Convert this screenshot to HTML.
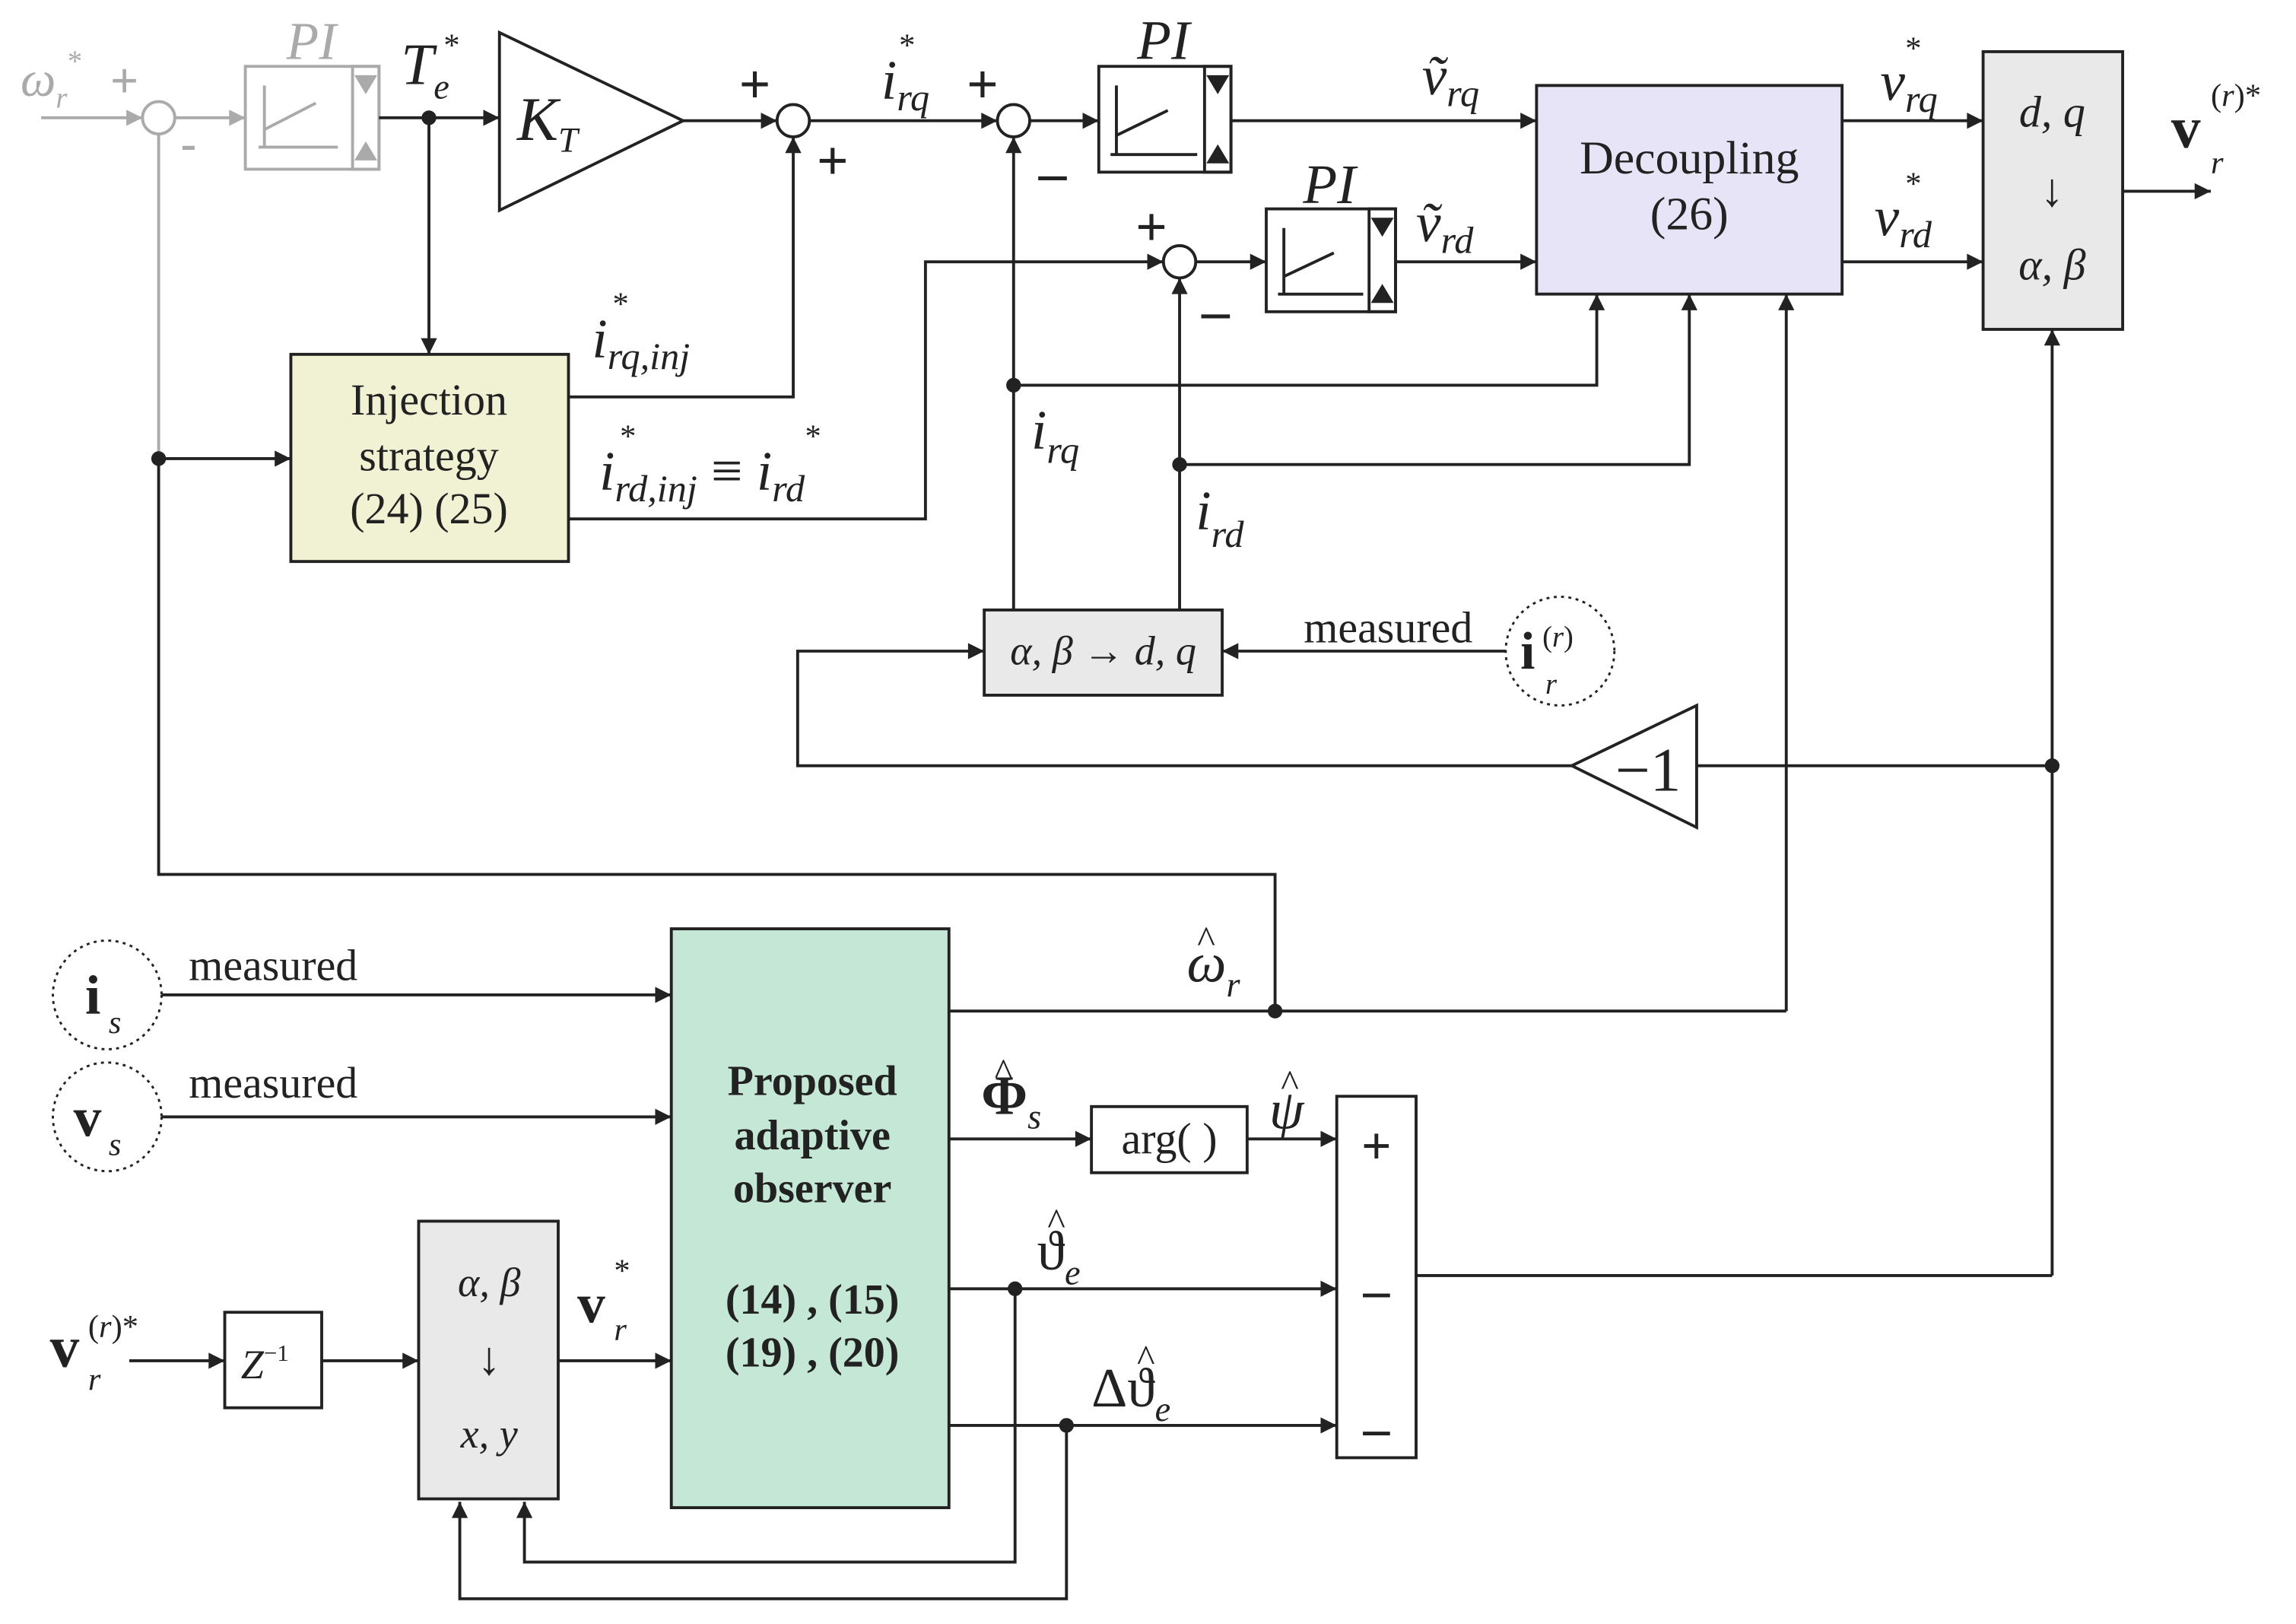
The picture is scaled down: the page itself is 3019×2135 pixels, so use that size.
<!DOCTYPE html>
<html><head><meta charset="utf-8"><style>
html,body{margin:0;padding:0;background:#fff}
svg{display:block}
text{font-family:"Liberation Serif",serif;fill:#222}
.i{font-style:italic}
.g{fill:#aaa}
</style></head><body>
<svg width="3019" height="2135" viewBox="0 0 1563 1105" xmlns="http://www.w3.org/2000/svg">
<defs>
<marker id="a" viewBox="0 0 10 10" refX="10" refY="5" markerWidth="13" markerHeight="11" orient="auto" markerUnits="userSpaceOnUse"><path d="M0,0 L10,5 L0,10z" fill="#222"/></marker>
<marker id="ag" viewBox="0 0 10 10" refX="10" refY="5" markerWidth="13" markerHeight="11" orient="auto" markerUnits="userSpaceOnUse"><path d="M0,0 L10,5 L0,10z" fill="#aaa"/></marker>
</defs>
<g fill="none" stroke="#222" stroke-width="2">
<g stroke="#aaa">
<line x1="28" y1="80" x2="97" y2="80" marker-end="url(#ag)"/>
<circle cx="108" cy="80" r="11"/>
<line x1="119" y1="80" x2="167" y2="80" marker-end="url(#ag)"/>
<rect x="167" y="45" width="91" height="70"/>
<line x1="108" y1="91" x2="108" y2="312"/>
<path d="M180,100 V58 M176,100 H230 M180,88 L215,70"/>
<rect x="240" y="45" width="18" height="70"/>
<path d="M243,52 h12 l-6,10z M243,108 h12 l-6,-10z" fill="#aaa"/>
</g>
<line x1="258" y1="80" x2="340" y2="80" marker-end="url(#a)"/>
<circle cx="292" cy="80" r="4" fill="#222"/>
<line x1="292" y1="80" x2="292" y2="241" marker-end="url(#a)"/>
<path d="M340,22 V143 L465,82 Z"/>
<line x1="465" y1="82" x2="529" y2="82" marker-end="url(#a)"/>
<circle cx="540" cy="82" r="11"/>
<line x1="551" y1="82" x2="679" y2="82" marker-end="url(#a)"/>
<circle cx="690" cy="82" r="11"/>
<line x1="701" y1="82" x2="748" y2="82" marker-end="url(#a)"/>
<rect x="748" y="45" width="90" height="72"/>
<path d="M760,105 V58 M756,105 H815 M760,92 L795,75"/>
<rect x="820" y="45" width="18" height="72"/>
<path d="M823,52 h12 l-6,10z M823,110 h12 l-6,-10z" fill="#222"/>
<line x1="838" y1="82" x2="1046" y2="82" marker-end="url(#a)"/>
<rect x="1046" y="58" width="208" height="142" fill="#e6e4f6"/>
<circle cx="803" cy="178" r="11"/>
<line x1="814" y1="178" x2="862" y2="178" marker-end="url(#a)"/>
<rect x="862" y="142" width="88" height="70"/>
<path d="M874,200 V155 M870,200 H928 M874,188 L908,172"/>
<rect x="932" y="142" width="18" height="70"/>
<path d="M935,149 h12 l-6,10z M935,205 h12 l-6,-10z" fill="#222"/>
<line x1="950" y1="178" x2="1046" y2="178" marker-end="url(#a)"/>
<line x1="1254" y1="82" x2="1350" y2="82" marker-end="url(#a)"/>
<line x1="1254" y1="178" x2="1350" y2="178" marker-end="url(#a)"/>
<rect x="1350" y="35" width="95" height="189" fill="#e8e9e8"/>
<line x1="1445" y1="130" x2="1505" y2="130" marker-end="url(#a)"/>
<rect x="198" y="241" width="189" height="141" fill="#f1f2d4"/>
<polyline points="387,270 540,270 540,93" marker-end="url(#a)"/>
<polyline points="387,353 630,353 630,178 792,178" marker-end="url(#a)"/>
<line x1="108" y1="312" x2="198" y2="312" marker-end="url(#a)"/>
<circle cx="108" cy="312" r="4" fill="#222"/>
<polyline points="108,312 108,595 868,595 868,688"/>
<line x1="690" y1="415" x2="690" y2="93" marker-end="url(#a)"/>
<circle cx="690" cy="262" r="4" fill="#222"/>
<polyline points="690,262 1087,262 1087,200" marker-end="url(#a)"/>
<line x1="803" y1="415" x2="803" y2="189" marker-end="url(#a)"/>
<circle cx="803" cy="316" r="4" fill="#222"/>
<polyline points="803,316 1150,316 1150,200" marker-end="url(#a)"/>
<polyline points="1216,688 1216,200" marker-end="url(#a)"/>
<rect x="670" y="415" width="162" height="58" fill="#e8e9e8"/>
<line x1="1025" y1="443" x2="832" y2="443" marker-end="url(#a)"/>
<circle cx="1062" cy="443" r="37" stroke-dasharray="2,3" stroke-width="1.5"/>
<polyline points="1070,521 543,521 543,443 670,443" marker-end="url(#a)"/>
<path d="M1070,521 L1155,480 V563 Z"/>
<line x1="1155" y1="521" x2="1397" y2="521"/>
<circle cx="1397" cy="521" r="4" fill="#222"/>
<line x1="1397" y1="868" x2="1397" y2="224" marker-end="url(#a)"/>
<rect x="457" y="632" width="189" height="394" fill="#c5e7d6"/>
<circle cx="73" cy="677" r="37" stroke-dasharray="2,3" stroke-width="1.5"/>
<circle cx="73" cy="760" r="37" stroke-dasharray="2,3" stroke-width="1.5"/>
<line x1="110" y1="677" x2="457" y2="677" marker-end="url(#a)"/>
<line x1="110" y1="760" x2="457" y2="760" marker-end="url(#a)"/>
<line x1="646" y1="688" x2="1216" y2="688"/>
<circle cx="868" cy="688" r="4" fill="#222"/>
<line x1="646" y1="775" x2="743" y2="775" marker-end="url(#a)"/>
<rect x="743" y="753" width="106" height="45"/>
<line x1="849" y1="775" x2="910" y2="775" marker-end="url(#a)"/>
<rect x="910" y="746" width="54" height="246"/>
<line x1="646" y1="877" x2="910" y2="877" marker-end="url(#a)"/>
<circle cx="691" cy="877" r="4" fill="#222"/>
<polyline points="691,877 691,1063 357,1063 357,1022" marker-end="url(#a)"/>
<line x1="646" y1="970" x2="910" y2="970" marker-end="url(#a)"/>
<circle cx="726" cy="970" r="4" fill="#222"/>
<polyline points="726,970 726,1088 313,1088 313,1022" marker-end="url(#a)"/>
<line x1="964" y1="868" x2="1397" y2="868"/>
<line x1="88" y1="926" x2="153" y2="926" marker-end="url(#a)"/>
<rect x="153" y="893" width="66" height="65"/>
<line x1="219" y1="926" x2="285" y2="926" marker-end="url(#a)"/>
<rect x="285" y="831" width="95" height="189" fill="#e8e9e8"/>
<line x1="380" y1="926" x2="457" y2="926" marker-end="url(#a)"/>
</g>
<text x="14" y="65" font-size="34" class="i g">ω<tspan font-size="20" dy="8">r</tspan></text>
<text x="46" y="48" font-size="20" class="g">*</text>
<text x="75" y="66" font-size="34" class="g" font-weight="bold">+</text>
<text x="123" y="108" font-size="32" class="g" font-weight="bold">-</text>
<text x="212" y="40" font-size="36" class="i g" text-anchor="middle">PI</text>
<text x="273" y="57" font-size="40" class="i">T<tspan font-size="24" dy="10">e</tspan></text>
<text x="302" y="38" font-size="22">*</text>
<text x="352" y="95" font-size="42" class="i">K<tspan font-size="24" dy="8">T</tspan></text>
<text x="503" y="70" font-size="38" font-weight="bold">+</text>
<text x="556" y="122" font-size="38" font-weight="bold">+</text>
<text x="600" y="67" font-size="38" class="i">i<tspan font-size="26" dy="8">rq</tspan></text>
<text x="612" y="38" font-size="22">*</text>
<text x="658" y="70" font-size="38" font-weight="bold">+</text>
<text x="707" y="130" font-size="38" font-weight="bold">–</text>
<text x="792" y="40" font-size="38" class="i" text-anchor="middle">PI</text>
<text x="905" y="138" font-size="38" class="i" text-anchor="middle">PI</text>
<text x="968" y="64" font-size="38" class="i">ṽ<tspan font-size="26" dy="8">rq</tspan></text>
<text x="964" y="164" font-size="38" class="i">ṽ<tspan font-size="26" dy="8">rd</tspan></text>
<text x="773" y="167" font-size="38" font-weight="bold">+</text>
<text x="818" y="224" font-size="38" font-weight="bold">–</text>
<text x="1150" y="118" font-size="32" text-anchor="middle">Decoupling</text>
<text x="1150" y="156" font-size="32" text-anchor="middle">(26)</text>
<text x="1280" y="68" font-size="38" class="i">v<tspan font-size="26" dy="8">rq</tspan></text>
<text x="1297" y="40" font-size="22">*</text>
<text x="1276" y="160" font-size="38" class="i">v<tspan font-size="26" dy="8">rd</tspan></text>
<text x="1297" y="132" font-size="22">*</text>
<text x="1397" y="86" font-size="30" class="i" text-anchor="middle">d, q</text>
<text x="1397" y="140" font-size="32" text-anchor="middle">↓</text>
<text x="1397" y="190" font-size="30" class="i" text-anchor="middle">α, β</text>
<text x="1478" y="100" font-size="40" font-weight="bold">v</text>
<text x="1505" y="118" font-size="22" class="i">r</text>
<text x="1505" y="72" font-size="22">(<tspan class="i">r</tspan>)*</text>
<text x="292" y="282" font-size="30" text-anchor="middle">Injection</text>
<text x="292" y="320" font-size="30" text-anchor="middle">strategy</text>
<text x="292" y="356" font-size="30" text-anchor="middle">(24) (25)</text>
<text x="403" y="243" font-size="38" class="i">i<tspan font-size="26" dy="8">rq,inj</tspan></text>
<text x="417" y="214" font-size="22">*</text>
<text x="408" y="333" font-size="38" class="i">i<tspan font-size="26" dy="8">rd,inj</tspan><tspan dy="-8" font-style="normal"> ≡ </tspan>i<tspan font-size="26" dy="8">rd</tspan></text>
<text x="422" y="304" font-size="22">*</text>
<text x="548" y="304" font-size="22">*</text>
<text x="702" y="305" font-size="38" class="i">i<tspan font-size="26" dy="10">rq</tspan></text>
<text x="814" y="360" font-size="38" class="i">i<tspan font-size="26" dy="12">rd</tspan></text>
<text x="751" y="452" font-size="28" class="i" text-anchor="middle">α, β <tspan font-style="normal">→</tspan> d, q</text>
<text x="945" y="437" font-size="30" text-anchor="middle">measured</text>
<text x="1035" y="455" font-size="36" font-weight="bold">i</text>
<text x="1052" y="472" font-size="20" class="i">r</text>
<text x="1050" y="440" font-size="20">(<tspan class="i">r</tspan>)</text>
<text x="1122" y="538" font-size="42" text-anchor="middle">−1</text>
<text x="553" y="745" font-size="29" font-weight="bold" text-anchor="middle">Proposed</text>
<text x="553" y="782" font-size="29" font-weight="bold" text-anchor="middle">adaptive</text>
<text x="553" y="818" font-size="29" font-weight="bold" text-anchor="middle">observer</text>
<text x="553" y="894" font-size="29" font-weight="bold" text-anchor="middle">(14) , (15)</text>
<text x="553" y="930" font-size="29" font-weight="bold" text-anchor="middle">(19) , (20)</text>
<text x="58" y="690" font-size="38" font-weight="bold">i</text>
<text x="74" y="703" font-size="22" class="i">s</text>
<text x="186" y="667" font-size="30" text-anchor="middle">measured</text>
<text x="50" y="773" font-size="38" font-weight="bold">v</text>
<text x="74" y="786" font-size="22" class="i">s</text>
<text x="186" y="747" font-size="30" text-anchor="middle">measured</text>
<text x="808" y="668" font-size="38" class="i">ω<tspan font-size="24" dy="10">r</tspan></text>
<text x="815" y="648" font-size="26">^</text>
<text x="668" y="758" font-size="38" font-weight="bold">Φ<tspan font-size="24" dy="10" font-weight="normal" font-style="italic">s</tspan></text>
<text x="677" y="738" font-size="26">^</text>
<text x="796" y="785" font-size="30" text-anchor="middle">arg(   )</text>
<text x="864" y="768" font-size="38" class="i">ψ</text>
<text x="872" y="746" font-size="26">^</text>
<text x="937" y="792" font-size="36" font-weight="bold" text-anchor="middle">+</text>
<text x="937" y="890" font-size="36" font-weight="bold" text-anchor="middle">–</text>
<text x="937" y="984" font-size="36" font-weight="bold" text-anchor="middle">–</text>
<text x="706" y="864" font-size="38">ϑ<tspan font-size="24" dy="10" class="i">e</tspan></text>
<text x="713" y="840" font-size="26">^</text>
<text x="743" y="957" font-size="38">Δϑ<tspan font-size="24" dy="10" class="i">e</tspan></text>
<text x="774" y="933" font-size="26">^</text>
<text x="34" y="930" font-size="40" font-weight="bold">v</text>
<text x="60" y="946" font-size="22" class="i">r</text>
<text x="60" y="910" font-size="22">(<tspan class="i">r</tspan>)*</text>
<text x="164" y="938" font-size="28" class="i">Z<tspan font-size="16" dy="-12" font-style="normal">−1</tspan></text>
<text x="333" y="882" font-size="28" class="i" text-anchor="middle">α, β</text>
<text x="333" y="935" font-size="32" text-anchor="middle">↓</text>
<text x="333" y="985" font-size="28" class="i" text-anchor="middle">x, y</text>
<text x="393" y="900" font-size="38" font-weight="bold">v</text>
<text x="418" y="912" font-size="22" class="i">r</text>
<text x="418" y="872" font-size="22">*</text>
</svg>
</body></html>
